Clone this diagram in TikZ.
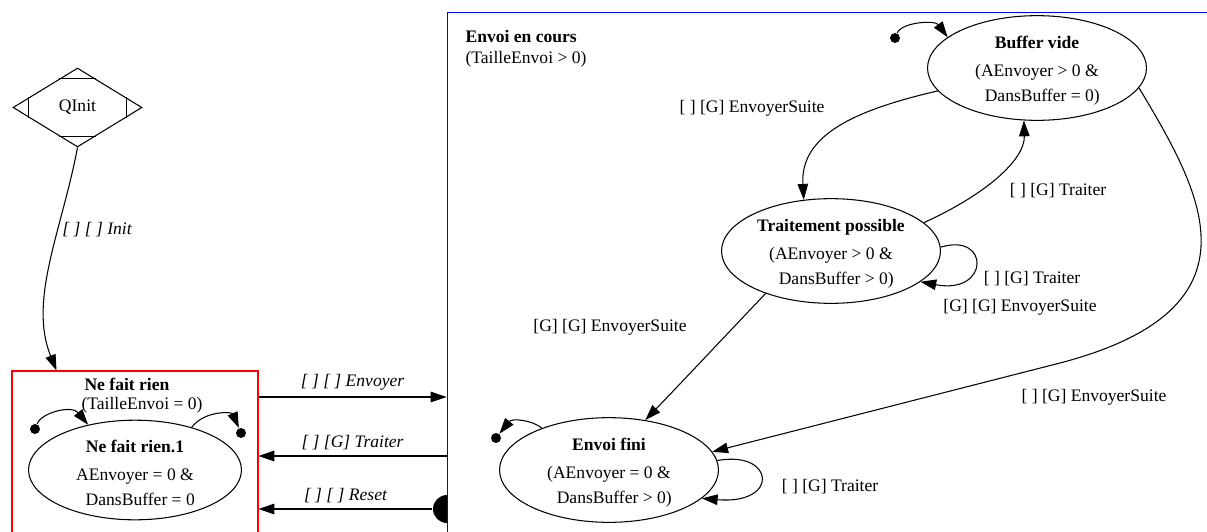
\documentclass[tikz,border=0pt]{standalone}
\usepackage{fontspec}
\setmainfont{Liberation Serif}
\usetikzlibrary{shapes.geometric, arrows.meta, positioning, calc}

\begin{document}
\begin{tikzpicture}[
    x=0.02cm, y=-0.02cm, line width=0.6pt,
    >={Triangle[length=9pt, width=6pt]},
    state/.style={ellipse, draw, minimum width=4.38cm, minimum height=1.86cm, inner sep=0pt, align=center},
    inidot/.style={circle, fill, inner sep=0pt, minimum size=0.2cm},
    trans/.style={font=\itshape}
]
\useasboundingbox (0,0) rectangle (1207,531);

% clusters
\node[circle, fill, inner sep=0pt, minimum size=0.56cm] (reset) at (447,509) {};
\node[draw=blue, fill=white, minimum width=15.66cm, minimum height=11.18cm, inner sep=0pt] (cours) at (838.5,291.5) {};
\node[draw=red, minimum width=4.92cm, minimum height=4cm, inner sep=0pt] (nfr) at (135,471) {};
\node[font=\bfseries] (nfrtitle) at (127,384) {Ne fait rien};
\node (nfrinv) at (142,405) {(TailleEnvoi = 0)};
\node[font=\bfseries, anchor=west, inner sep=0pt] (courstitle) at (465,37) {Envoi en cours};
\node[anchor=west, inner sep=0pt] (coursinv) at (465,59) {(TailleEnvoi > 0)};

% pseudo state
\node[diamond, draw, minimum width=2.58cm, minimum height=1.58cm, inner sep=0pt] (qinit) at (77.5,107.5) {QInit};
\foreach \a/\b/\c/\f in {north/west/east/0.28, south/west/east/0.28, west/north/south/0.25, east/north/south/0.25}
    \draw ($(qinit.\a)!\f!(qinit.\b)$) -- ($(qinit.\a)!\f!(qinit.\c)$);

% states
\node[state, minimum width=4.26cm, minimum height=1.88cm] (nfr1) at (135,470)
    {\rule{0pt}{10pt}\textbf{Ne fait rien.1}\\[4pt]AEnvoyer = 0 \&\\[2pt]\hspace*{0.6em}DansBuffer = 0};
\node[state] (bvide) at (1037,68)
    {\rule{0pt}{10pt}\textbf{Buffer vide}\\[4pt](AEnvoyer > 0 \&\\[2pt]\hspace*{0.6em}DansBuffer = 0)};
\node[state] (tpos) at (831,251)
    {\rule{0pt}{10pt}\textbf{Traitement possible}\\[4pt](AEnvoyer > 0 \&\\[2pt]\hspace*{0.6em}DansBuffer > 0)};
\node[state, minimum height=1.88cm] (efini) at (609,470)
    {\rule{0pt}{10pt}\textbf{Envoi fini}\\[4pt](AEnvoyer = 0 \&\\[2pt]\hspace*{0.6em}DansBuffer > 0)};

\node[inidot] (ini1) at (35,429) {};
\node[inidot] (fin1) at (241,433) {};
\node[inidot] (inibv) at (895,38) {};
\node[inidot] (finef) at (496,438) {};

% transitions
\draw[->] (qinit.south) .. controls (62,230) and (28,300) .. ($(nfr.north west)+(45,0)$);
\node[trans] (linit) at (97,230) {[ ] [ ] Init};
\draw[->] (ini1) .. controls (42,412) and (72,405) .. (nfr1.136);
\draw[->] (nfr1.37) .. controls (205,410) and (232,412) .. (fin1);

\draw[->] (nfr.east |- 0,397) -- node[above, trans] (lenv) {[ ] [ ] Envoyer} (cours.west |- 0,397);
\draw[->] (cours.west |- 0,456) -- node[above, trans] (ltr) {[ ] [G] Traiter} (nfr.east |- 0,456);
\draw[->] (reset) -- node[above, trans] (lres) {[ ] [ ] Reset} (nfr.east |- reset);

\draw[->] (inibv) .. controls (902,22) and (935,20) .. (bvide.161);
\draw[->] (bvide.193) .. controls (855,110) and (800,135) .. (tpos.118);
\node (lbt) at (752,108) {[ ] [G] EnvoyerSuite};
\draw[->] (tpos.17) .. controls (985,195) and (1025,160) .. (bvide.256);
\node (ltb) at (1058,191) {[ ] [G] Traiter};
\draw[->] (tpos.2) .. controls (990,232) and (990,295) .. (tpos.341);
\node (lts1) at (1032,279) {[ ] [G] Traiter};
\node (lts2) at (1020,307) {[G] [G] EnvoyerSuite};
\draw[->] (tpos.213) .. controls (728,333) and (682,382) .. (efini.54);
\node (lte) at (610,327) {[G] [G] EnvoyerSuite};
\draw[->] (bvide.349) .. controls (1200,190) and (1270,308) .. (1060,363) -- (efini.10);
\node (lbe) at (1094,397) {[ ] [G] EnvoyerSuite};
\draw[->] (efini.5) .. controls (775,450) and (780,505) .. (efini.343);
\node (lef) at (830,487) {[ ] [G] Traiter};
\draw[->] (efini.148) .. controls (532,420) and (512,418) .. (finef);
\end{tikzpicture}
\end{document}
